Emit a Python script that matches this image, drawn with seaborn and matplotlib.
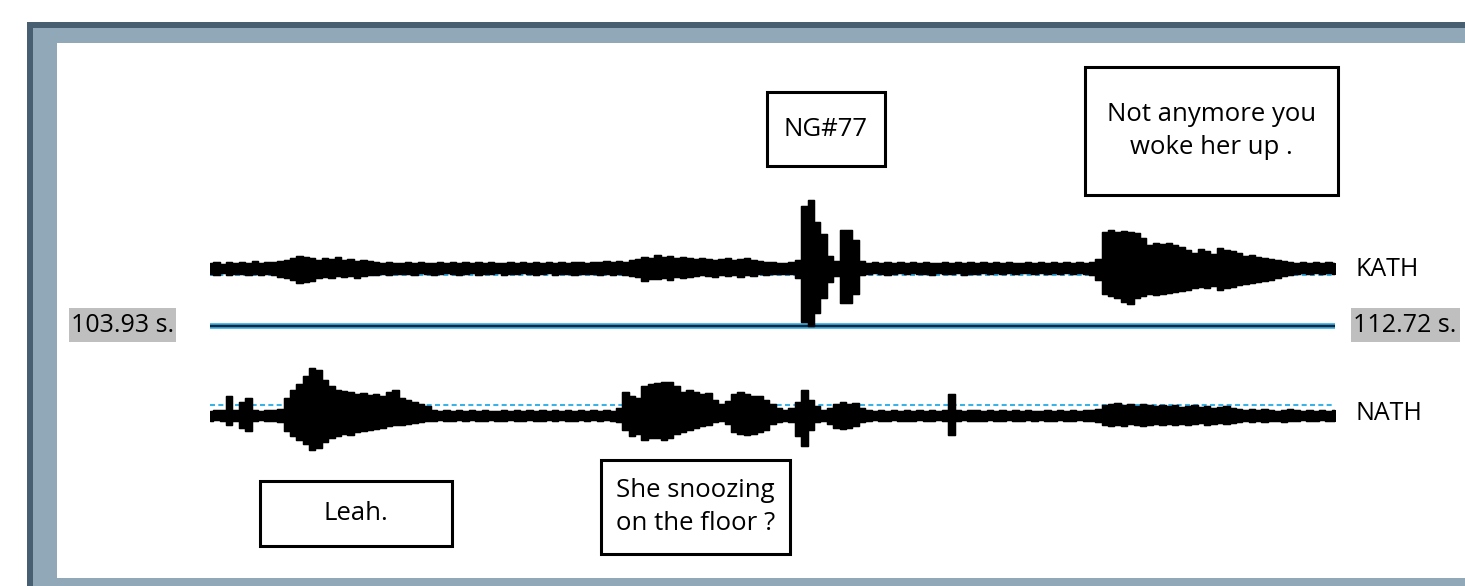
import numpy as np
import matplotlib
matplotlib.use("Agg")
import matplotlib.pyplot as plt
from matplotlib.patches import Rectangle
import seaborn as sns

# ---- data -------------------------------------------------------------
T_START, T_END = 103.93, 112.72          # seconds shown in the window
channels = ["KATH", "NATH"]

# amplitude envelopes (upper = above channel centre, lower = below), one
# value per ~0.05 s frame
kath_upper = [5, 6, 4, 6, 5, 6, 5, 7, 5, 6,
              6, 7, 8, 10, 12, 11, 10, 8, 10, 9,
              11, 8, 9, 7, 8, 7, 6, 5, 6, 5,
              5, 6, 5, 6, 5, 5, 6, 5, 6, 5,
              6, 5, 6, 5, 6, 5, 5, 6, 5, 6,
              5, 6, 5, 6, 5, 6, 5, 6, 6, 5,
              6, 6, 7, 6, 7, 6, 8, 9, 11, 10,
              13, 11, 12, 10, 11, 10, 9, 10, 9, 8,
              9, 10, 8, 9, 10, 8, 7, 6, 6, 5,
              5, 6, 8, 62, 68, 46, 34, 12, 7, 38,
              38, 28, 7, 5, 6, 5, 6, 5, 6, 5,
              6, 5, 6, 5, 5, 6, 5, 6, 5, 6,
              5, 6, 5, 6, 5, 6, 5, 5, 6, 5,
              6, 5, 6, 5, 6, 5, 6, 5, 6, 9,
              36, 38, 36, 37, 36, 35, 30, 23, 25, 24,
              25, 23, 21, 18, 15, 19, 17, 14, 20, 18,
              17, 15, 12, 13, 11, 10, 9, 8, 7, 6,
              5, 6, 5, 6, 5, 6, 5]
kath_lower = [6, 7, 5, 7, 6, 6, 7, 6, 7, 6,
              7, 9, 10, 12, 15, 14, 13, 10, 9, 10,
              8, 9, 8, 10, 8, 7, 7, 6, 7, 6,
              6, 6, 7, 5, 6, 7, 6, 5, 6, 7,
              6, 5, 7, 6, 6, 5, 7, 6, 6, 5,
              6, 7, 6, 5, 7, 6, 6, 7, 6, 6,
              6, 7, 6, 7, 6, 7, 8, 9, 13, 11,
              11, 10, 12, 9, 10, 9, 8, 7, 8, 9,
              7, 8, 7, 9, 7, 8, 6, 7, 6, 6,
              6, 6, 10, 54, 58, 45, 30, 14, 8, 35,
              35, 26, 7, 6, 5, 6, 7, 6, 5, 6,
              5, 6, 6, 7, 5, 6, 6, 5, 7, 6,
              6, 5, 6, 5, 6, 5, 6, 5, 5, 6,
              5, 6, 5, 6, 5, 6, 5, 6, 7, 12,
              26, 28, 30, 34, 36, 30, 28, 26, 27, 26,
              25, 24, 23, 22, 20, 19, 20, 18, 22, 20,
              19, 17, 16, 15, 14, 13, 12, 10, 8, 7,
              6, 5, 6, 5, 6, 5, 6]
nath_upper = [5, 6, 6, 20, 6, 14, 18, 6, 5, 6,
              6, 7, 18, 26, 32, 40, 48, 46, 36, 30,
              26, 25, 24, 22, 23, 21, 22, 20, 24, 26,
              18, 16, 14, 12, 10, 6, 5, 6, 5, 6,
              5, 6, 5, 6, 5, 5, 6, 5, 6, 5,
              6, 5, 6, 5, 6, 5, 6, 5, 6, 5,
              6, 5, 6, 5, 8, 24, 20, 18, 30, 32,
              33, 34, 34, 30, 24, 26, 24, 22, 23, 16,
              12, 15, 22, 24, 22, 20, 20, 16, 12, 8,
              6, 8, 14, 26, 16, 10, 6, 8, 12, 14,
              12, 13, 8, 6, 5, 6, 5, 6, 5, 6,
              5, 6, 5, 6, 5, 6, 22, 6, 5, 6,
              6, 5, 6, 5, 6, 5, 6, 5, 6, 5,
              5, 6, 5, 6, 5, 6, 5, 6, 6, 7,
              11, 12, 13, 11, 12, 10, 12, 11, 10, 11,
              10, 11, 9, 10, 11, 9, 10, 8, 9, 10,
              8, 7, 6, 7, 6, 7, 6, 5, 6, 7,
              6, 5, 6, 5, 6, 5, 6]
nath_lower = [5, 4, 5, 9, 5, 12, 15, 5, 4, 5,
              5, 6, 15, 20, 24, 28, 34, 32, 26, 22,
              20, 18, 19, 16, 15, 14, 13, 12, 10, 9,
              9, 8, 7, 6, 5, 5, 4, 5, 5, 4,
              5, 4, 5, 5, 4, 5, 5, 4, 5, 5,
              4, 5, 5, 4, 5, 4, 5, 5, 4, 5,
              4, 5, 4, 5, 6, 14, 20, 18, 24, 22,
              22, 24, 22, 18, 16, 14, 12, 10, 9, 6,
              5, 8, 16, 18, 19, 18, 16, 14, 8, 6,
              5, 6, 20, 30, 14, 6, 5, 8, 12, 13,
              12, 10, 6, 5, 4, 5, 5, 4, 5, 5,
              5, 4, 5, 5, 4, 5, 19, 5, 4, 5,
              5, 5, 4, 5, 5, 4, 5, 5, 4, 5,
              4, 5, 5, 4, 5, 5, 4, 5, 5, 6,
              9, 10, 9, 10, 8, 9, 10, 9, 8, 9,
              8, 9, 8, 9, 8, 7, 9, 8, 7, 8,
              7, 6, 5, 6, 5, 6, 5, 5, 6, 5,
              5, 4, 5, 5, 4, 5, 5]

start_label = "103.93 s."
end_label = "112.72 s."
utterances = ["NG#77", "Not anymore you\nwoke her up .", "Leah.",
              "She snoozing\non the floor ?"]

# ---- styling ----------------------------------------------------------
sns.set_theme(style="white")
plt.rcParams["font.family"] = ["Open Sans", "DejaVu Sans"]

W, H = 1465, 586
fig = plt.figure(figsize=(W / 100, H / 100), dpi=100)
fig.patch.set_facecolor("white")

DARK = "#485f71"
LIGHT = "#91a8b8"
CYAN = "#2aa9e0"
FS = 18
FS_BOX = 18.5


def fx(px):
    return px / W


def fy(py):
    return 1 - py / H


def frect(x0, y0, x1, y1, zorder=1, **kw):
    fig.add_artist(Rectangle((fx(x0), fy(y1)), fx(x1) - fx(x0),
                             fy(y0) - fy(y1), transform=fig.transFigure,
                             zorder=zorder, **kw))


# slide frame (behind everything)
frect(27, 22, 1480, 600, zorder=-3, fc=DARK, ec="none")
frect(33, 28, 1480, 600, zorder=-2, fc=LIGHT, ec="none")
frect(57, 43, 1480, 578, zorder=-1, fc="white", ec="none")

# waveform panel
ax = fig.add_axes([fx(210), fy(470), fx(1335) - fx(210), fy(180) - fy(470)])
ax.set_zorder(2)
ax.set_xlim(T_START, T_END)
ax.set_ylim(-144, 146)
ax.axis("off")
ax.patch.set_alpha(0)

offsets = {"KATH": 58, "NATH": -90}
ref_lines = {"KATH": 51, "NATH": -79}
envelopes = {"KATH": (kath_upper, kath_lower), "NATH": (nath_upper, nath_lower)}

t = np.linspace(T_START, T_END, len(kath_upper))

# time axis line
ax.plot([T_START, T_END], [0, 0], color=CYAN, lw=4.0, solid_capstyle="butt", zorder=1)
ax.plot([T_START, T_END], [0, 0], color="#0b2536", lw=1.6, solid_capstyle="butt", zorder=1.1)

for ch in channels:
    up, lo = envelopes[ch]
    off = offsets[ch]
    top = off + np.asarray(up, float)
    bot = off - np.asarray(lo, float)
    ax.plot([T_START, T_END], [ref_lines[ch]] * 2, color="#3cb1e6", lw=1.5,
            dashes=(2.4, 1.6), zorder=1)
    ax.fill_between(t, bot, top, step="mid", color="black", lw=0.8, zorder=2)
    sns.lineplot(x=t, y=top, ax=ax, color="black", lw=1.0, zorder=2.1,
                 drawstyle="steps-mid")
    sns.lineplot(x=t, y=bot, ax=ax, color="black", lw=1.0, zorder=2.1,
                 drawstyle="steps-mid")
    fig.text(fx(1355), fy(270 if ch == "KATH" else 413), ch, ha="left",
             va="center", fontsize=FS, color="black", zorder=5)

# window start / end times
frect(69, 308, 176, 342, zorder=3, fc="#bfbfbf", ec="none")
fig.text(fx(123), fy(325), start_label, ha="center", va="center",
         fontsize=FS, color="black", zorder=5)
frect(1351, 308, 1460, 342, zorder=3, fc="#bfbfbf", ec="none")
fig.text(fx(1405), fy(325), end_label, ha="center", va="center",
         fontsize=FS, color="black", zorder=5)

# transcription boxes
boxes = [(767, 92, 885, 166), (1085, 67, 1338, 195), (260, 481, 452, 546),
         (601, 460, 790, 554)]
for (x0, y0, x1, y1), txt in zip(boxes, utterances):
    frect(x0, y0, x1, y1, zorder=3, fc="white", ec="black", lw=2.2)
    fig.text(fx((x0 + x1) / 2), fy((y0 + y1) / 2), txt, ha="center",
             va="center", fontsize=FS_BOX, color="black", linespacing=1.4,
             zorder=5)

fig.savefig("out.png", dpi=100)
